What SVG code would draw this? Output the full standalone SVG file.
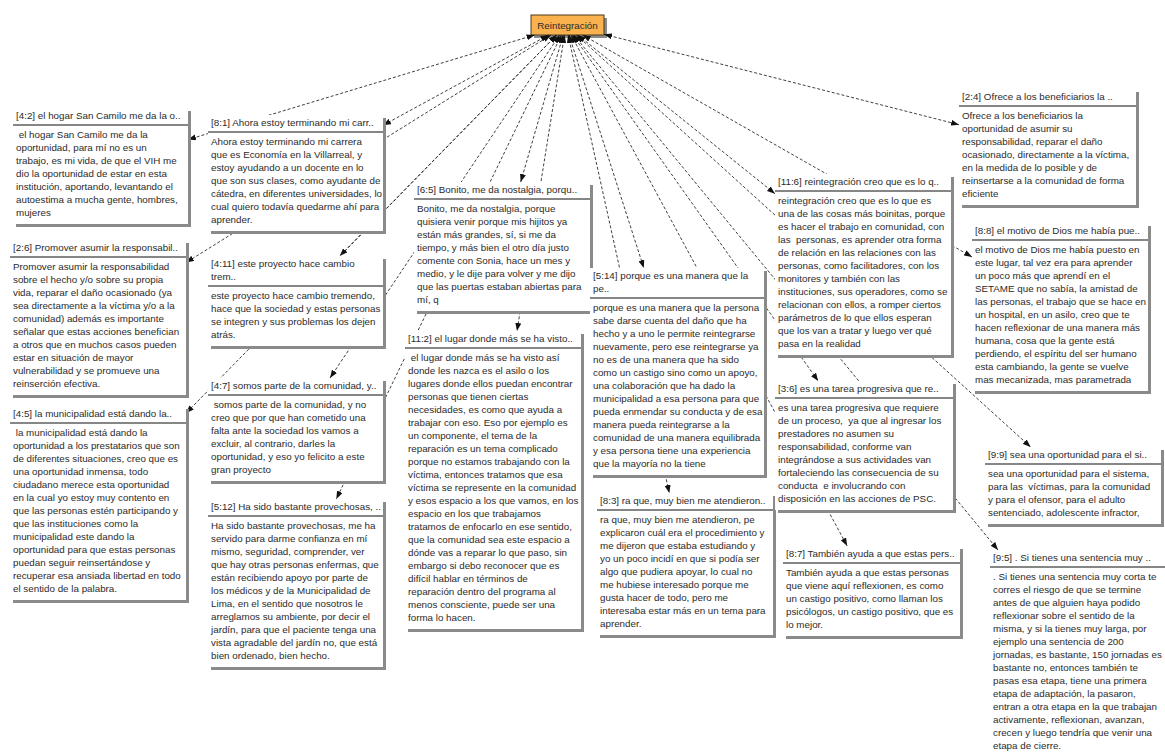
<svg xmlns="http://www.w3.org/2000/svg" width="1165" height="753" viewBox="0 0 1165 753">
<style>
.bx{fill:#ffffff}
.sh{fill:#8a8a8a}
.sep{stroke:#5e5e5e;stroke-width:1.7}
.t{font-family:"Liberation Sans",Arial,sans-serif;font-size:9.8px;fill:#2b2b2b}
.lk{fill:none;stroke:#2a2a2a;stroke-width:0.9;stroke-dasharray:3 2;marker-start:url(#ah);marker-end:url(#ah)}
.root{fill:#f9b24d;stroke:#4a3a1c;stroke-width:1}
</style>
<defs>
<marker id="ah" viewBox="0 0 8 6" refX="8" refY="3" markerWidth="8" markerHeight="6" markerUnits="userSpaceOnUse" orient="auto-start-reverse">
<path d="M0,0 L8,3 L0,6 Z" fill="#111111"/>
</marker>
</defs>
<rect width="1165" height="753" fill="#ffffff"/>

<g id="root">
<rect class="sh" x="534" y="18" width="73" height="20"/>
<rect class="root" x="531" y="15" width="73" height="20"/>
<text class="t" x="567.5" y="28.5" text-anchor="middle">Reintegración</text>
</g>

<g id="connectors">
<path class="lk" d="M534.6,35 L188,139.6"/>
<path class="lk" d="M548.6,35 L383,125.3"/>
<path class="lk" d="M550.8,35 L186,262.6"/>
<path class="lk" d="M556.7,35 L339.7,256"/>
<path class="lk" d="M559.6,35 L330,378"/>
<path class="lk" d="M556.7,35 L186,413.2"/>
<path class="lk" d="M561.4,35 L336.3,499"/>
<path class="lk" d="M563.2,35 L520.7,182"/>
<path class="lk" d="M564.5,35 L517,331"/>
<path class="lk" d="M569,35 L643.8,268"/>
<path class="lk" d="M568.1,35 L669.3,493"/>
<path class="lk" d="M577.8,35 L775,193.7"/>
<path class="lk" d="M572.7,35 L818.2,381"/>
<path class="lk" d="M571.1,35 L847.2,546"/>
<path class="lk" d="M582.7,35 L972,256.9"/>
<path class="lk" d="M604,34.3 L959,124.7"/>
<path class="lk" d="M576.5,35 L1030.6,447"/>
<path class="lk" d="M573.8,35 L998,550"/>
</g>

<g id="n4-2" transform="translate(13,108)">
<rect class="sh" x="3" y="3" width="175" height="116"/><rect class="bx" width="175" height="116"/>
<text class="t" x="3" y="11">[4:2] el hogar San Camilo me da la o..</text>
<line class="sep" x1="0" y1="17" x2="175" y2="17"/>
<text class="t" y="30"><tspan x="3" xml:space="preserve"> el hogar San Camilo me da la</tspan><tspan x="3" dy="13">oportunidad, para mí no es un</tspan><tspan x="3" dy="13">trabajo, es mi vida, de que el VIH me</tspan><tspan x="3" dy="13">dio la oportunidad de estar en esta</tspan><tspan x="3" dy="13">institución, aportando, levantando el</tspan><tspan x="3" dy="13">autoestima a mucha gente, hombres,</tspan><tspan x="3" dy="13">mujeres</tspan></text>
</g>

<g id="n8-1" transform="translate(208,115)">
<rect class="sh" x="3" y="3" width="175" height="116"/><rect class="bx" width="175" height="116"/>
<text class="t" x="3" y="11">[8:1] Ahora estoy terminando mi carr..</text>
<line class="sep" x1="0" y1="17" x2="175" y2="17"/>
<text class="t" y="30"><tspan x="3">Ahora estoy terminando mi carrera</tspan><tspan x="3" dy="13">que es Economía en la Villarreal, y</tspan><tspan x="3" dy="13">estoy ayudando a un docente en lo</tspan><tspan x="3" dy="13">que son sus clases, como ayudante de</tspan><tspan x="3" dy="13">cátedra, en diferentes universidades, lo</tspan><tspan x="3" dy="13">cual quiero todavía quedarme ahí para</tspan><tspan x="3" dy="13">aprender.</tspan></text>
</g>

<g id="n2-6" transform="translate(10,240)">
<rect class="sh" x="3" y="3" width="176" height="155"/><rect class="bx" width="176" height="155"/>
<text class="t" x="3" y="11">[2:6] Promover asumir la responsabil..</text>
<line class="sep" x1="0" y1="17" x2="176" y2="17"/>
<text class="t" y="30"><tspan x="3">Promover asumir la responsabilidad</tspan><tspan x="3" dy="13">sobre el hecho y/o sobre su propia</tspan><tspan x="3" dy="13">vida, reparar el daño ocasionado (ya</tspan><tspan x="3" dy="13">sea directamente a la víctima y/o a la</tspan><tspan x="3" dy="13">comunidad) además es importante</tspan><tspan x="3" dy="13">señalar que estas acciones benefician</tspan><tspan x="3" dy="13">a otros que en muchos casos pueden</tspan><tspan x="3" dy="13">estar en situación de mayor</tspan><tspan x="3" dy="13">vulnerabilidad y se promueve una</tspan><tspan x="3" dy="13">reinserción efectiva.</tspan></text>
</g>

<g id="n4-11" transform="translate(208,256)">
<rect class="sh" x="3" y="3" width="175" height="90"/><rect class="bx" width="175" height="90"/>
<text class="t" y="11"><tspan x="3">[4:11] este proyecto hace cambio</tspan><tspan x="3" dy="13">trem..</tspan></text>
<line class="sep" x1="0" y1="30" x2="175" y2="30"/>
<text class="t" y="43"><tspan x="3">este proyecto hace cambio tremendo,</tspan><tspan x="3" dy="13">hace que la sociedad y estas personas</tspan><tspan x="3" dy="13">se integren y sus problemas los dejen</tspan><tspan x="3" dy="13">atrás.</tspan></text>
</g>

<g id="n4-7" transform="translate(208,378)">
<rect class="sh" x="3" y="3" width="175" height="103"/><rect class="bx" width="175" height="103"/>
<text class="t" x="3" y="11">[4:7] somos parte de la comunidad, y..</text>
<line class="sep" x1="0" y1="17" x2="175" y2="17"/>
<text class="t" y="30"><tspan x="3" xml:space="preserve"> somos parte de la comunidad, y no</tspan><tspan x="3" dy="13">creo que por que han cometido una</tspan><tspan x="3" dy="13">falta ante la sociedad los vamos a</tspan><tspan x="3" dy="13">excluir, al contrario, darles la</tspan><tspan x="3" dy="13">oportunidad, y eso yo felicito a este</tspan><tspan x="3" dy="13">gran proyecto</tspan></text>
</g>

<g id="n4-5" transform="translate(10,406)">
<rect class="sh" x="3" y="3" width="176" height="194"/><rect class="bx" width="176" height="194"/>
<text class="t" x="3" y="11">[4:5] la municipalidad está dando la..</text>
<line class="sep" x1="0" y1="17" x2="176" y2="17"/>
<text class="t" y="30"><tspan x="3" xml:space="preserve"> la municipalidad está dando la</tspan><tspan x="3" dy="13">oportunidad a los prestatarios que son</tspan><tspan x="3" dy="13">de diferentes situaciones, creo que es</tspan><tspan x="3" dy="13">una oportunidad inmensa, todo</tspan><tspan x="3" dy="13">ciudadano merece esta oportunidad</tspan><tspan x="3" dy="13">en la cual yo estoy muy contento en</tspan><tspan x="3" dy="13">que las personas estén participando y</tspan><tspan x="3" dy="13">que las instituciones como la</tspan><tspan x="3" dy="13">municipalidad este dando la</tspan><tspan x="3" dy="13">oportunidad para que estas personas</tspan><tspan x="3" dy="13">puedan seguir reinsertándose y</tspan><tspan x="3" dy="13">recuperar esa ansiada libertad en todo</tspan><tspan x="3" dy="13">el sentido de la palabra.</tspan></text>
</g>

<g id="n5-12" transform="translate(208,499)">
<rect class="sh" x="3" y="3" width="175" height="168"/><rect class="bx" width="175" height="168"/>
<text class="t" x="3" y="11">[5:12] Ha sido bastante provechosas, ..</text>
<line class="sep" x1="0" y1="17" x2="175" y2="17"/>
<text class="t" y="30"><tspan x="3">Ha sido bastante provechosas, me ha</tspan><tspan x="3" dy="13">servido para darme confianza en mí</tspan><tspan x="3" dy="13">mismo, seguridad, comprender, ver</tspan><tspan x="3" dy="13">que hay otras personas enfermas, que</tspan><tspan x="3" dy="13">están recibiendo apoyo por parte de</tspan><tspan x="3" dy="13">los médicos y de la Municipalidad de</tspan><tspan x="3" dy="13">Lima, en el sentido que nosotros le</tspan><tspan x="3" dy="13">arreglamos su ambiente, por decir el</tspan><tspan x="3" dy="13">jardín, para que el paciente tenga una</tspan><tspan x="3" dy="13">vista agradable del jardín no, que está</tspan><tspan x="3" dy="13">bien ordenado, bien hecho.</tspan></text>
</g>

<g id="n6-5" transform="translate(414,182)">
<rect class="sh" x="3" y="3" width="176" height="129"/><rect class="bx" width="176" height="129"/>
<text class="t" x="3" y="11">[6:5] Bonito, me da nostalgia, porqu..</text>
<line class="sep" x1="0" y1="17" x2="176" y2="17"/>
<text class="t" y="30"><tspan x="3">Bonito, me da nostalgia, porque</tspan><tspan x="3" dy="13">quisiera venir porque mis hijitos ya</tspan><tspan x="3" dy="13">están más grandes, sí, si me da</tspan><tspan x="3" dy="13">tiempo, y más bien el otro día justo</tspan><tspan x="3" dy="13">comente con Sonia, hace un mes y</tspan><tspan x="3" dy="13">medio, y le dije para volver y me dijo</tspan><tspan x="3" dy="13">que las puertas estaban abiertas para</tspan><tspan x="3" dy="13">mí, q</tspan></text>
</g>

<g id="n11-2" transform="translate(405,331)">
<rect class="sh" x="3" y="3" width="176" height="298"/><rect class="bx" width="176" height="298"/>
<text class="t" x="3" y="11">[11:2] el lugar donde más se ha visto..</text>
<line class="sep" x1="0" y1="17" x2="176" y2="17"/>
<text class="t" y="30"><tspan x="3" xml:space="preserve"> el lugar donde más se ha visto así</tspan><tspan x="3" dy="13">donde les nazca es el asilo o los</tspan><tspan x="3" dy="13">lugares donde ellos puedan encontrar</tspan><tspan x="3" dy="13">personas que tienen ciertas</tspan><tspan x="3" dy="13">necesidades, es como que ayuda a</tspan><tspan x="3" dy="13">trabajar con eso. Eso por ejemplo es</tspan><tspan x="3" dy="13">un componente, el tema de la</tspan><tspan x="3" dy="13">reparación es un tema complicado</tspan><tspan x="3" dy="13">porque no estamos trabajando con la</tspan><tspan x="3" dy="13">víctima, entonces tratamos que esa</tspan><tspan x="3" dy="13">víctima se represente en la comunidad</tspan><tspan x="3" dy="13">y esos espacio a los que vamos, en los</tspan><tspan x="3" dy="13">espacio en los que trabajamos</tspan><tspan x="3" dy="13">tratamos de enfocarlo en ese sentido,</tspan><tspan x="3" dy="13">que la comunidad sea este espacio a</tspan><tspan x="3" dy="13">dónde vas a reparar lo que paso, sin</tspan><tspan x="3" dy="13">embargo si debo reconocer que es</tspan><tspan x="3" dy="13">difícil hablar en términos de</tspan><tspan x="3" dy="13">reparación dentro del programa al</tspan><tspan x="3" dy="13">menos consciente, puede ser una</tspan><tspan x="3" dy="13">forma lo hacen.</tspan></text>
</g>

<g id="n5-14" transform="translate(590,268)">
<rect class="sh" x="3" y="3" width="174" height="207"/><rect class="bx" width="174" height="207"/>
<text class="t" y="11"><tspan x="3">[5:14] porque es una manera que la</tspan><tspan x="3" dy="13">pe..</tspan></text>
<line class="sep" x1="0" y1="30" x2="174" y2="30"/>
<text class="t" y="43"><tspan x="3">porque es una manera que la persona</tspan><tspan x="3" dy="13">sabe darse cuenta del daño que ha</tspan><tspan x="3" dy="13">hecho y a uno le permite reintegrarse</tspan><tspan x="3" dy="13">nuevamente, pero ese reintegrarse ya</tspan><tspan x="3" dy="13">no es de una manera que ha sido</tspan><tspan x="3" dy="13">como un castigo sino como un apoyo,</tspan><tspan x="3" dy="13">una colaboración que ha dado la</tspan><tspan x="3" dy="13">municipalidad a esa persona para que</tspan><tspan x="3" dy="13">pueda enmendar su conducta y de esa</tspan><tspan x="3" dy="13">manera pueda reintegrarse a la</tspan><tspan x="3" dy="13">comunidad de una manera equilibrada</tspan><tspan x="3" dy="13">y esa persona tiene una experiencia</tspan><tspan x="3" dy="13">que la mayoría no la tiene</tspan></text>
</g>

<g id="n8-3" transform="translate(597,493)">
<rect class="sh" x="3" y="3" width="176" height="142"/><rect class="bx" width="176" height="142"/>
<text class="t" x="3" y="11">[8:3] ra que, muy bien me atendieron..</text>
<line class="sep" x1="0" y1="17" x2="176" y2="17"/>
<text class="t" y="30"><tspan x="3">ra que, muy bien me atendieron, pe</tspan><tspan x="3" dy="13">explicaron cuál era el procedimiento y</tspan><tspan x="3" dy="13">me dijeron que estaba estudiando y</tspan><tspan x="3" dy="13">yo un poco incidí en que si podía ser</tspan><tspan x="3" dy="13">algo que pudiera apoyar, lo cual no</tspan><tspan x="3" dy="13">me hubiese interesado porque me</tspan><tspan x="3" dy="13">gusta hacer de todo, pero me</tspan><tspan x="3" dy="13">interesaba estar más en un tema para</tspan><tspan x="3" dy="13">aprender.</tspan></text>
</g>

<g id="n11-6" transform="translate(775,174)">
<rect class="sh" x="3" y="3" width="176" height="181"/><rect class="bx" width="176" height="181"/>
<text class="t" x="3" y="11">[11:6] reintegración creo que es lo q..</text>
<line class="sep" x1="0" y1="17" x2="176" y2="17"/>
<text class="t" y="30"><tspan x="3">reintegración creo que es lo que es</tspan><tspan x="3" dy="13">una de las cosas más boinitas, porque</tspan><tspan x="3" dy="13">es hacer el trabajo en comunidad, con</tspan><tspan x="3" dy="13" xml:space="preserve">las  personas, es aprender otra forma</tspan><tspan x="3" dy="13">de relación en las relaciones con las</tspan><tspan x="3" dy="13">personas, como facilitadores, con los</tspan><tspan x="3" dy="13">monitores y también con las</tspan><tspan x="3" dy="13">instituciones, sus operadores, como se</tspan><tspan x="3" dy="13">relacionan con ellos, a romper ciertos</tspan><tspan x="3" dy="13">parámetros de lo que ellos esperan</tspan><tspan x="3" dy="13">que los van a tratar y luego ver qué</tspan><tspan x="3" dy="13">pasa en la realidad</tspan></text>
</g>

<g id="n3-6" transform="translate(775,381)">
<rect class="sh" x="3" y="3" width="178" height="129"/><rect class="bx" width="178" height="129"/>
<text class="t" x="3" y="11">[3:6] es una tarea progresiva que re..</text>
<line class="sep" x1="0" y1="17" x2="178" y2="17"/>
<text class="t" y="30"><tspan x="3">es una tarea progresiva que requiere</tspan><tspan x="3" dy="13" xml:space="preserve">de un proceso,  ya que al ingresar los</tspan><tspan x="3" dy="13">prestadores no asumen su</tspan><tspan x="3" dy="13">responsabilidad, conforme van</tspan><tspan x="3" dy="13">integrándose a sus actividades van</tspan><tspan x="3" dy="13">fortaleciendo las consecuencia de su</tspan><tspan x="3" dy="13" xml:space="preserve">conducta  e involucrando con</tspan><tspan x="3" dy="13">disposición en las acciones de PSC.</tspan></text>
</g>

<g id="n8-7" transform="translate(783,546)">
<rect class="sh" x="3" y="3" width="177" height="90"/><rect class="bx" width="177" height="90"/>
<text class="t" x="3" y="11">[8:7] También ayuda a que estas pers..</text>
<line class="sep" x1="0" y1="17" x2="177" y2="17"/>
<text class="t" y="30"><tspan x="3">También ayuda a que estas personas</tspan><tspan x="3" dy="13">que viene aquí reflexionen, es como</tspan><tspan x="3" dy="13">un castigo positivo, como llaman los</tspan><tspan x="3" dy="13">psicólogos, un castigo positivo, que es</tspan><tspan x="3" dy="13">lo mejor.</tspan></text>
</g>

<g id="n8-8" transform="translate(972,223)">
<rect class="sh" x="3" y="3" width="176" height="168"/><rect class="bx" width="176" height="168"/>
<text class="t" x="3" y="11">[8:8] el motivo de Dios me había pue..</text>
<line class="sep" x1="0" y1="17" x2="176" y2="17"/>
<text class="t" y="30"><tspan x="3">el motivo de Dios me había puesto en</tspan><tspan x="3" dy="13">este lugar, tal vez era para aprender</tspan><tspan x="3" dy="13">un poco más que aprendí en el</tspan><tspan x="3" dy="13">SETAME que no sabía, la amistad de</tspan><tspan x="3" dy="13">las personas, el trabajo que se hace en</tspan><tspan x="3" dy="13">un hospital, en un asilo, creo que te</tspan><tspan x="3" dy="13">hacen reflexionar de una manera más</tspan><tspan x="3" dy="13">humana, cosa que la gente está</tspan><tspan x="3" dy="13">perdiendo, el espíritu del ser humano</tspan><tspan x="3" dy="13">esta cambiando, la gente se vuelve</tspan><tspan x="3" dy="13">mas mecanizada, mas parametrada</tspan></text>
</g>

<g id="n2-4" transform="translate(959,89)">
<rect class="sh" x="3" y="3" width="177" height="116"/><rect class="bx" width="177" height="116"/>
<text class="t" x="3" y="11">[2:4] Ofrece a los beneficiarios la ..</text>
<line class="sep" x1="0" y1="17" x2="177" y2="17"/>
<text class="t" y="30"><tspan x="3">Ofrece a los beneficiarios la</tspan><tspan x="3" dy="13">oportunidad de asumir su</tspan><tspan x="3" dy="13">responsabilidad, reparar el daño</tspan><tspan x="3" dy="13">ocasionado, directamente a la víctima,</tspan><tspan x="3" dy="13">en la medida de lo posible y de</tspan><tspan x="3" dy="13">reinsertarse a la comunidad de forma</tspan><tspan x="3" dy="13">eficiente</tspan></text>
</g>

<g id="n9-9" transform="translate(985,447)">
<rect class="sh" x="3" y="3" width="176" height="77"/><rect class="bx" width="176" height="77"/>
<text class="t" x="3" y="11">[9:9] sea una oportunidad para el si..</text>
<line class="sep" x1="0" y1="17" x2="176" y2="17"/>
<text class="t" y="30"><tspan x="3">sea una oportunidad para el sistema,</tspan><tspan x="3" dy="13" xml:space="preserve">para las  víctimas, para la comunidad</tspan><tspan x="3" dy="13">y para el ofensor, para el adulto</tspan><tspan x="3" dy="13">sentenciado, adolescente infractor,</tspan></text>
</g>

<g id="n9-5" transform="translate(990,550)">
<rect class="sh" x="3" y="3" width="190" height="210"/><rect class="bx" width="190" height="210"/>
<text class="t" x="3" y="11">[9:5] . Si tienes una sentencia muy ..</text>
<line class="sep" x1="0" y1="17" x2="190" y2="17"/>
<text class="t" y="30"><tspan x="3">. Si tienes una sentencia muy corta te</tspan><tspan x="3" dy="13">corres el riesgo de que se termine</tspan><tspan x="3" dy="13">antes de que alguien haya podido</tspan><tspan x="3" dy="13">reflexionar sobre el sentido de la</tspan><tspan x="3" dy="13">misma, y si la tienes muy larga, por</tspan><tspan x="3" dy="13">ejemplo una sentencia de 200</tspan><tspan x="3" dy="13">jornadas, es bastante, 150 jornadas es</tspan><tspan x="3" dy="13">bastante no, entonces también te</tspan><tspan x="3" dy="13">pasas esa etapa, tiene una primera</tspan><tspan x="3" dy="13">etapa de adaptación, la pasaron,</tspan><tspan x="3" dy="13">entran a otra etapa en la que trabajan</tspan><tspan x="3" dy="13">activamente, reflexionan, avanzan,</tspan><tspan x="3" dy="13">crecen y luego tendría que venir una</tspan><tspan x="3" dy="13">etapa de cierre.</tspan></text>
</g>
</svg>
